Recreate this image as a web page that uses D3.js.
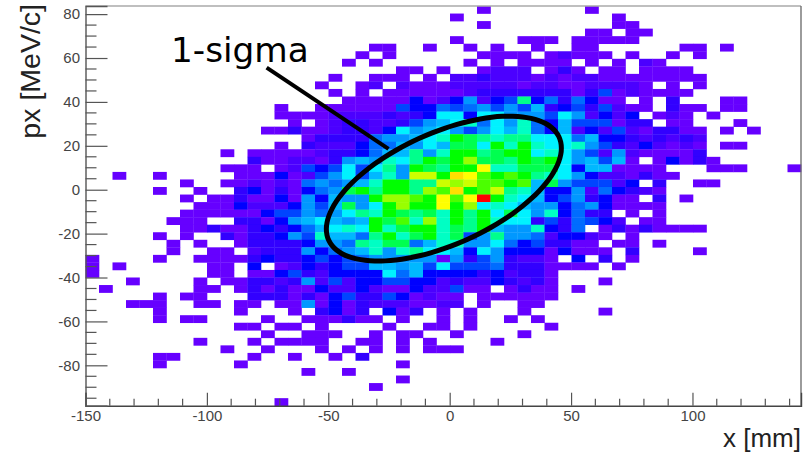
<!DOCTYPE html>
<html><head><meta charset="utf-8">
<script src="https://cdn.jsdelivr.net/npm/d3@7"></script>
<style>html,body{margin:0;padding:0;background:#fff}svg{display:block}</style>
</head><body><svg id="c" width="811" height="453"></svg>
<script>
// axis ranges
const xDomain = [-150, 144.7];
const yDomain = [-98.4, 83.7];
const binCount = 53;
const xTicksMajor = [-150, -100, -50, 0, 50, 100];
const yTicksMajor = [-80, -60, -40, -20, 0, 20, 40, 60, 80];
const xTitle = "x [mm]";
const yTitle = "px [MeV/c]";
const note = "1-sigma";
// ellipse in data units: centre, half ranges, phase cosine
const ellipseCentre = [-2.4, 0.5];
const ellipseHalf = [48.4, 33];
const ellipseCos = 0.559;
// annotation pointer in data units
const pointer = [[-75.4, 55.6], [-25.2, 18.6]];
// colour for each count level (base-36 digit in rows; "." = empty)
const levelColors = ["#ffffff","#6600ff","#4c00ff","#3000ff","#0000ff","#0044ff","#006cff","#0098ff","#00b8ff","#00f2ff","#00ffc4","#00ff8c","#00ff50","#00ff00","#4cff00","#99ff00","#ccff00","#ffff00","#ffdf00","#ff0000"];
// histogram counts, top row first, spaced every 10 columns
const counts = [
".......... .......... .........1 .......1.. .......... ...",
".......... .......... .......1.. .........1 .......... ...",
".......... .......... .........1 .........1 1......... ...",
".......... .......... .......... .......11. 11........ ...",
".......... .......... .......1.. ..111.1111 1......... ...",
".......... .......... .11..1..1. 1..1..11.. ....11.1.. ...",
".......... .......... 1.1......1 111.12111. 1..1.1.... ...",
".......... .........1 .1......1. 1.1111.1.1 .21....... ...",
".......... .......... ...11.1..1 222.131.11 .1111..... ...",
".......... ........1. .111.1.223 2221212211 111111.... ...",
".......... .......1.. 12.2111222 2212211222 21.1.1.... ...",
".......... ........1. 1.11111123 3333331351 21111..... ...",
".......... .........1 1111412472 45b4636411 .1.3...11. ...",
".......... ....1..111 1115446567 5758345352 11.311.11. ...",
".......... ....111122 2232349949 9777597242 4.121.1... ...",
".......... .....1.123 32235789a6 97a6485551 33.11...1. ...",
".......... ...1131123 3249789757 98a6482425 213311.1.1 ...",
".......... ......1333 367789adcb abb9996844 323232.... ...",
".......... ....1.3222 4668798cc9 dada99a753 242121.11. ...",
".......... 1.11111233 4688b7addb cdd9a97527 211113.... ...",
".......... ..31122137 87a9bdcdfc cbdcd97858 1.14131... ...",
".......... 111.125459 59b7dcbddh aaccc94881 111...111. ..1",
"..1..1.... .111412579 58a7ggdihe dedba97422 1311...... ...",
".......1.. 1121216767 8addbbgfge ede8c75552 4.3..11... ...",
".....1..1. .34131467c dbddbfeide gba8447264 321....... ...",
".......1.1 1311417487 7dffedhehj da98457341 1.3.1..... ...",
"........11 142224758c 79dfddhdf9 a987746741 111....... ...",
".......111 1114557679 badcbcadbd 9c97a4633. 1.1....... ...",
"......111. .331478987 8dceafadbd a993536542 .11....... ...",
".......113 113434689a 9dacddacbd 877a436.13 131111.... ...",
".....1.1.. 3133475a88 6bdacdac57 b77624421. 1......... ...",
"......1.1. .133334776 bacc68aa77 96453311.1 1.1....... ...",
"......1..1 1.23337467 8a7ab99849 744414111. 3....1.... ...",
"1....1..11 1134334545 6777771735 73221.4.3. 1......... ...",
"1.1......1 1.4.124345 5887859555 63331111.1 .......... ...",
"1........1 1.11453244 4496844443 42331..... .......... ...",
"...1....1. 1133237252 4455442322 43231...1. .......... ...",
".1......11 .131311422 4211422511 .1311.1... .......... ...",
".....1.11. ..33313145 33541211.1 11111..... .......... ...",
"...111..11 .11.117141 32221122.1 ..11...... .......... ...",
".....1.... .1...1.341 3.413.1.1. ..1.....1. .......... ...",
".....1.11. ...1..1113 11.1..1.1. .1.1...... .......... ...",
".......... .11.11.1.. ..1..11.1. ....1..... .......... ...",
".......... ...1..111. .1.11..1.. ..1....... .......... ...",
"........1. ..1.1111.. 11.1.1.... 1......... .......... ...",
".......... 1..1...1.1 .1.1.111.. .......... .......... ...",
".....11... ..1..1..1. 3......... .......... .......... ...",
".....1.... .1........ ...1...... .......... .......... ...",
".......... ......1..1 .......... .......... .......... ...",
".......... .......... ...1...... .......... .......... ...",
".......... .......... .1........ .......... .......... ...",
".......... .......... .......... .......... .......... ...",
".......... ....1..... .......... .......... .......... ..."
];

const plotL = 85.5, plotR = 801, plotT = 6, plotB = 405.7;
const x = d3.scaleLinear().domain(xDomain).range([plotL, plotR]);
const y = d3.scaleLinear().domain(yDomain).range([plotB, plotT]);
const col = d3.scaleBand().domain(d3.range(binCount)).range([plotL, plotR]);
const row = d3.scaleBand().domain(d3.range(binCount)).range([plotT, plotB]);
const svg = d3.select("#c");
const defs = svg.append("defs");
defs.append("filter").attr("id","soft").attr("x","0").attr("y","0").attr("width","1").attr("height","1")
  .append("feGaussianBlur").attr("stdDeviation",0.45);

const cells = [];
counts.forEach((r,ri)=>{
  Array.from(r.replace(/ /g,"")).forEach((ch,ci)=>{
    if(ch!==".") cells.push({ri,ci,v:parseInt(ch,36)});
  });
});
svg.append("g").attr("filter","url(#soft)").selectAll("rect").data(cells).join("rect")
  .attr("x",d=>col(d.ci)).attr("y",d=>row(d.ri))
  .attr("width",col.bandwidth()+0.3).attr("height",row.bandwidth()+0.3)
  .attr("fill",d=>levelColors[d.v]);

// frame
const frame = svg.append("g").attr("fill","none");
frame.append("line").attr("x1",plotL).attr("x2",plotR).attr("y1",plotT).attr("y2",plotT).attr("stroke","#aaa").attr("stroke-width",1.5);
frame.append("line").attr("x1",plotR).attr("x2",plotR).attr("y1",plotT).attr("y2",plotB).attr("stroke","#666").attr("stroke-width",1.3);

// x axis
const xMinor = d3.range(-140,145,10).filter(v=>!xTicksMajor.includes(v));
const xAxisMajor = d3.axisBottom(x).tickValues(xTicksMajor).tickSize(-13).tickPadding(5).tickFormat(String);
const gx = svg.append("g").attr("transform",`translate(0,${plotB})`).call(xAxisMajor);
gx.selectAll("text").attr("font-family","'Liberation Sans',Arial,sans-serif").attr("font-size",15).attr("fill","#444").attr("y",5);
gx.selectAll("line").attr("stroke","#555").attr("stroke-width",1.2);
gx.select(".domain").attr("stroke","#444").attr("stroke-width",1.4);
svg.append("g").selectAll("line").data(xMinor).join("line")
  .attr("x1",d=>x(d)).attr("x2",d=>x(d)).attr("y1",plotB-7).attr("y2",plotB).attr("stroke","#555").attr("stroke-width",1.2);

// y axis
const yMinor = d3.range(-95,85,5).filter(v=>!yTicksMajor.includes(v));
const yAxisMajor = d3.axisLeft(y).tickValues(yTicksMajor).tickSize(-22).tickPadding(5.5).tickFormat(String);
const gy = svg.append("g").attr("transform",`translate(${plotL},0)`).call(yAxisMajor);
gy.selectAll("text").attr("font-family","'Liberation Sans',Arial,sans-serif").attr("font-size",15).attr("fill","#444").attr("x",-5.5);
gy.selectAll("line").attr("stroke","#555").attr("stroke-width",1.2);
gy.select(".domain").attr("stroke","#555").attr("stroke-width",1.4);
svg.append("g").selectAll("line").data(yMinor).join("line")
  .attr("x1",plotL).attr("x2",plotL+11).attr("y1",d=>y(d)).attr("y2",d=>y(d)).attr("stroke","#555").attr("stroke-width",1.2);

// titles
svg.append("text").attr("x",801).attr("y",447).attr("text-anchor","end")
  .attr("font-family","'Liberation Sans',Arial,sans-serif").attr("font-size",26).attr("fill","#222").text(xTitle);
svg.append("text").attr("transform","translate(39.5,4) rotate(-90)").attr("text-anchor","end")
  .attr("font-family","'Liberation Sans',Arial,sans-serif").attr("font-size",28.5).attr("fill","#222").text(yTitle);

// ellipse
const line = d3.line().x(d=>x(d[0])).y(d=>y(d[1])).curve(d3.curveCardinalClosed);
const phi = Math.acos(ellipseCos);
const pts = d3.range(0,360,6).map(a=>{
  const t=a*Math.PI/180;
  return [ellipseCentre[0]+ellipseHalf[0]*Math.cos(t), ellipseCentre[1]+ellipseHalf[1]*Math.cos(t-phi)];
});
svg.append("path").attr("d",line(pts)).attr("fill","none").attr("stroke","#000").attr("stroke-width",5);

// pointer and label
svg.append("line").attr("x1",x(pointer[0][0])).attr("y1",y(pointer[0][1])).attr("x2",x(pointer[1][0])).attr("y2",y(pointer[1][1]))
  .attr("stroke","#000").attr("stroke-width",4);
svg.append("text").attr("x",171).attr("y",62).attr("font-family","'DejaVu Sans',sans-serif").attr("font-size",34.3).attr("fill","#000").text(note);
</script></body></html>
